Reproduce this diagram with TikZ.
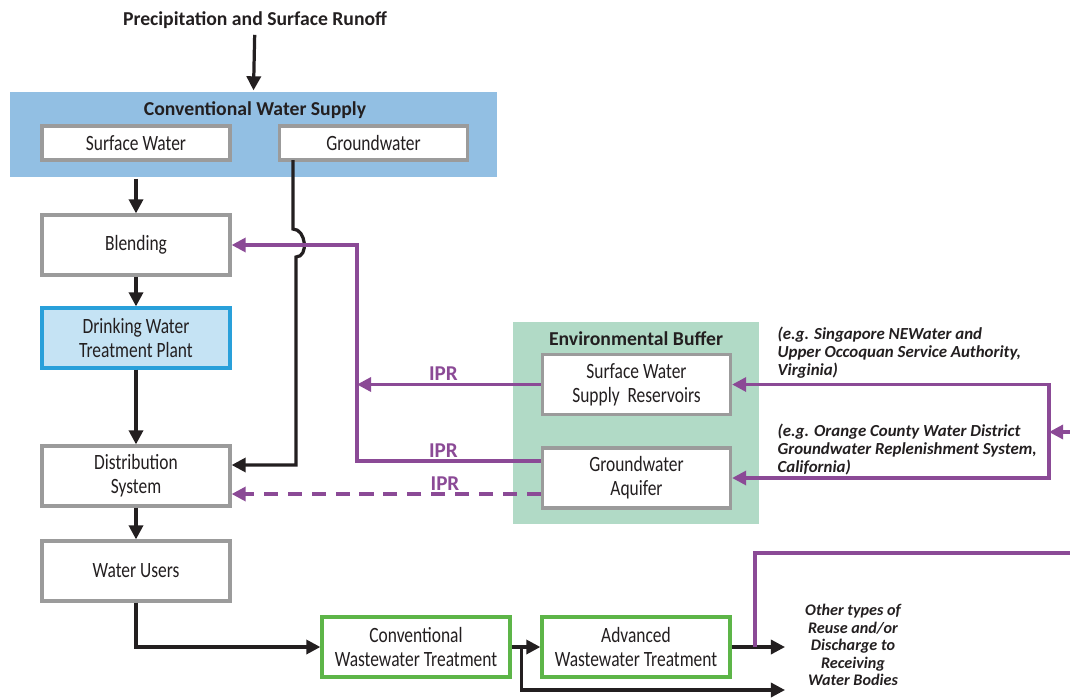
\documentclass[tikz,border=0pt]{standalone}
\usepackage{fontspec}
\setmainfont{Carlito}[FakeStretch=0.8]
\newfontfamily\egfont{Carlito}
\usetikzlibrary{arrows.meta}

\definecolor{supplyblue}{RGB}{146,191,227}
\definecolor{plantfill}{RGB}{197,227,244}
\definecolor{plantblue}{RGB}{41,160,218}
\definecolor{bufgreen}{RGB}{177,218,198}
\definecolor{wwgreen}{RGB}{93,181,72}
\definecolor{boxgray}{RGB}{155,155,155}
\definecolor{iprpurple}{RGB}{139,74,150}
\definecolor{ink}{RGB}{35,31,32}

\begin{document}
\begin{tikzpicture}[x=0.025cm, y=-0.025cm, >={Triangle[length=10pt,width=10pt]},
  line width=2.3pt, color=ink,
  box/.style={rectangle,draw=boxgray,fill=white,line width=2.3pt,minimum width=4.7cm,minimum height=1.5cm,inner sep=1pt,align=center,font=\fontsize{15.5}{17}\selectfont},
  srcbox/.style={box,minimum height=0.85cm},
  plantbox/.style={box,draw=plantblue,fill=plantfill},
  wwbox/.style={box,draw=wwgreen},
  head/.style={font=\egfont\bfseries\fontsize{14}{16}\selectfont},
  egtext/.style={align=left,inner sep=0pt,font=\egfont\bfseries\itshape\fontsize{12}{13}\selectfont},
  ipr/.style={draw=iprpurple},
  iprlabel/.style={above,inner sep=1.5pt,text=iprpurple,font=\egfont\bfseries\fontsize{15}{16}\selectfont}]
\useasboundingbox (0,0) rectangle (1070,698);

% background panels
\node [fill=supplyblue,minimum width=12.175cm,minimum height=2.125cm,inner sep=0pt] (supply) at (253.5,134.5) {};
\node [fill=bufgreen,minimum width=6.15cm,minimum height=5.05cm,inner sep=0pt] (buffer) at (636,423) {};

% headings
\node [head] (precip) at (255,20) {Precipitation and Surface Runoff};
\node [head] (supplytitle) at (255,110) {Conventional Water Supply};
\node [head] (buftitle) at (636,339) {Environmental Buffer};

% boxes
\node [srcbox] (sw) at (136,143) {Surface Water};
\node [srcbox] (gw) at (373.5,143) {Groundwater};
\node [box] (blend) at (136,245) {Blending};
\node [plantbox] (dwtp) at (136,338) {Drinking Water\\Treatment Plant};
\node [box] (dist) at (136,476) {Distribution\\System};
\node [box] (users) at (136,571) {Water Users};
\node [box] (swsr) at (636.5,384.5) {Surface Water\\Supply\ \ Reservoirs};
\node [box] (gwaq) at (636.5,478) {Groundwater\\Aquifer};
\node [wwbox] (cwt) at (416,647) {Conventional\\Wastewater Treatment};
\node [wwbox] (awt) at (636,647) {Advanced\\Wastewater Treatment};

% notes
\node [egtext,anchor=north west] (eg1) at (776,325) {(e.g. Singapore NEWater and\\Upper Occoquan Service Authority,\\Virginia)};
\node [egtext,anchor=north west] (eg2) at (776,422) {(e.g. Orange County Water District\\Groundwater Replenishment System,\\California)};
\node [egtext,align=center,font=\egfont\bfseries\itshape\fontsize{11.5}{12.5}\selectfont] (other) at (853,645) {Other types of\\Reuse and/or\\Discharge to\\Receiving\\Water Bodies};

% helper points
\coordinate (gwdrop) at (293,160);
\coordinate (gwhop) at (296,257);
\coordinate (pv) at (357,300);
\coordinate (rv) at (1049,432);
\coordinate (rin) at (1070,432);
\coordinate (gwtop) at ([yshift=0.425cm]gwaq.west);
\coordinate (gwbot) at ([yshift=-0.4cm]gwaq.west);
\coordinate (gwin) at ([yshift=0.275cm]dist.east);
\coordinate (brk) at ([xshift=0.25cm]cwt.east);
\coordinate (othermid) at (785,647);
\coordinate (otherlow) at (785,690);
\coordinate (pup) at (755,553);
\coordinate (redge) at (1070,553);

% main flow
\draw [->] (precip) -- (supply.north);
\draw [->] (sw |- supply.south) -- (blend.north);
\draw [->] (blend) -- (dwtp);
\draw [->] (dwtp) -- (dist);
\draw [->] (dist) -- (users);
\draw [->] (gwdrop) -- (293,229) .. controls (306,229) and (309,257) .. (gwhop) -- (gwhop |- gwin) -- (gwin);
\draw [->] (users.south) |- (cwt.west);
\draw [->] (cwt.east) -- (awt.west);
\draw [->] (brk) |- (otherlow);
\draw [->] (awt.east) -- (othermid);

% indirect potable reuse
\draw [ipr,->] (swsr.west) -- node [iprlabel,pos=.53] (ipr1) {IPR} (swsr.west -| pv);
\draw [ipr,->] (gwtop) -- node [iprlabel,pos=.53] (ipr2) {IPR} (gwtop -| pv) -- (blend.east -| pv) -- (blend.east);
\draw [ipr,dash pattern=on 10pt off 7pt,->] (gwbot) -- node [iprlabel,pos=.31] (ipr3) {IPR} (gwbot -| dist.east);
\draw [ipr,<->] (swsr.east) -- (rv |- swsr.east) -- (rv |- gwaq.east) -- (gwaq.east);
\draw [ipr,->] (rin) -- (rv);
\draw [ipr] (pup |- awt.east) |- (redge);
\end{tikzpicture}
\end{document}
